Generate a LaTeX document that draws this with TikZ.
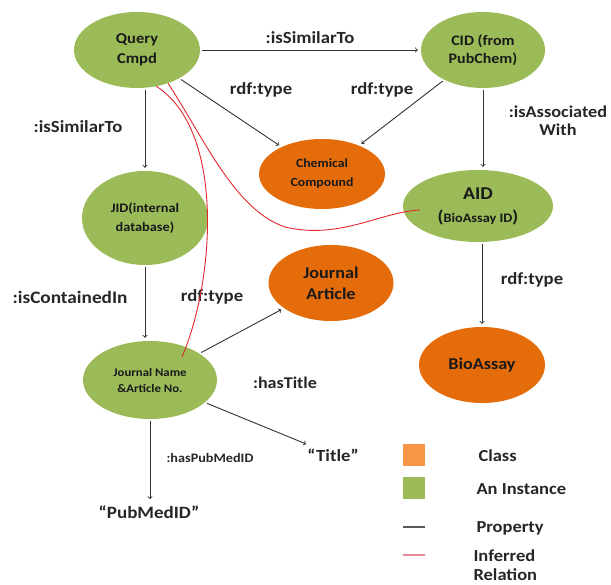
\documentclass[tikz,border=0pt]{standalone}
\usepackage{fontspec}
\setmainfont{Carlito}[FakeStretch=1.1]
\usetikzlibrary{shapes.geometric}
\definecolor{instgreen}{HTML}{9BBB59}
\definecolor{classorange}{HTML}{E46C0A}
\definecolor{keyorange}{HTML}{F79646}
\definecolor{propgray}{HTML}{333333}
\definecolor{keygray}{HTML}{595959}
\definecolor{inferred}{HTML}{E3262E}
\definecolor{keypink}{HTML}{E58A94}
\newcommand{\fsz}[2]{\fontsize{#1}{#2}\selectfont}

\begin{document}
\begin{tikzpicture}[x=1pt,y=-1pt,
    instance/.style={ellipse, fill=instgreen, inner sep=0pt, align=center, text=black!90},
    class/.style={ellipse, fill=classorange, inner sep=0pt, align=center, text=black!90},
    prop/.style={->, draw=propgray, line width=0.9pt, shorten <=2pt, shorten >=3pt},
    infer/.style={draw=inferred, line width=0.9pt},
    lbl/.style={font={\bfseries\fsz{17}{18}}, text=black!85, align=center}]
    \useasboundingbox (0,0) rectangle (611,585);
    % Instances
    \node[instance, minimum width=126pt, minimum height=76pt, font={\bfseries\fsz{15}{20}}] (query) at (137,50) {Query\\Cmpd};
    \node[instance, minimum width=124pt, minimum height=76pt, font={\bfseries\fsz{14.5}{18}}] (cid) at (483,50) {CID (from\\PubChem)};
    \node[instance, minimum width=126pt, minimum height=94pt, font={\bfseries\fsz{13}{19}}] (jid) at (145,218) {JID(internal\\database)};
    \node[instance, minimum width=150pt, minimum height=72pt, font={\bfseries\fsz{18}{23}}] (aid) at (478,206) {AID\\{\fsz{17}{23}(}{\fsz{13}{23}BioAssay ID}{\fsz{17}{23})}};
    \node[instance, minimum width=134pt, minimum height=78pt, font={\bfseries\fsz{11.6}{16}}] (jname) at (150,380) {Journal Name\\\&Article No.};
    % Classes
    \node[class, minimum width=126pt, minimum height=70pt, font={\bfseries\fsz{12.5}{19}}] (chem) at (322,174) {Chemical\\Compound};
    \node[class, minimum width=125pt, minimum height=76pt, font={\bfseries\fsz{16.5}{21}}] (jart) at (331,283) {Journal\\Article};
    \node[class, minimum width=126pt, minimum height=76pt, font={\bfseries\fsz{16.5}{20}}] (bioassay) at (482,365) {BioAssay};
    % Literals
    \node[lbl, font={\bfseries\fsz{17}{20}}] (title) at (333,455) {“Title”};
    \node[lbl, font={\bfseries\fsz{17.3}{20}}] (pubmed) at (149,512) {“PubMedID”};
    % Properties
    \draw[prop] (query) -- (cid);
    \node[lbl] (simtop) at (310,38) {:isSimilarTo};
    \draw[prop] (jid.north |- query.south) -- (jid.north);
    \node[lbl] (simleft) at (78,127) {:isSimilarTo};
    \draw[prop] (query) -- (chem);
    \node[lbl] (typeq) at (261,90) {rdf:type};
    \draw[prop] (cid) -- (chem);
    \node[lbl] (typec) at (382,90) {rdf:type};
    \draw[prop] (cid.south) -- (cid.south |- aid.north);
    \node[lbl, font={\bfseries\fsz{16.6}{18}}] (assoc) at (558,121) {:isAssociated\\With};
    \draw[prop] (bioassay.north |- aid.south) -- (bioassay.north);
    \node[lbl] (typea) at (532,280) {rdf:type};
    \draw[prop] (jid.south) -- (jid.south |- jname.north);
    \node[lbl, font={\bfseries\fsz{17.5}{18}}] (contained) at (70,297) {:isContainedIn};
    \draw[prop] (jname) -- (jart);
    \node[lbl] (typej) at (212,297) {rdf:type};
    \draw[prop] (jname) -- (title);
    \node[lbl, font={\bfseries\fsz{16.4}{18}}] (hastitle) at (285,383) {:hasTitle};
    \draw[prop] (jname.south) -- (jname.south |- pubmed.north);
    \node[lbl, font={\bfseries\fsz{12.9}{14}}] (haspub) at (210,458) {:hasPubMedID};
    % Inferred relations
    \coordinate (jtick) at (182,357);
    \coordinate (atick) at (420,210);
    \draw[infer] (query.-62) .. controls (225,130) and (215,280) .. (jtick);
    \draw[infer] (query.-47) .. controls (205,140) and (235,210) .. (285,227)
        .. controls (340,240) and (380,212) .. (atick);
    % Legend
    \node[fill=keyorange, minimum size=22pt, inner sep=0pt] (keyclass) at (414,455) {};
    \node[lbl, anchor=west, font={\bfseries\fsz{16.8}{18}}] (keyclasstxt) at (475,456) {Class};
    \node[fill=instgreen, minimum size=22pt, inner sep=0pt] (keyinst) at (414,488) {};
    \node[lbl, anchor=west, font={\bfseries\fsz{16.8}{18}}] (keyinsttxt) at (473,489) {An Instance};
    \draw[keygray, line width=1.6pt] (403,527) -- (425,527);
    \node[lbl, anchor=west, font={\bfseries\fsz{16.8}{18}}] (keyproptxt) at (473,528) {Property};
    \draw[keypink, line width=1.6pt] (403,555) -- (425,555);
    \node[lbl, anchor=west, align=left, font={\bfseries\fsz{16.8}{19}}] (keyinftxt) at (470,565) {Inferred\\Relation};
\end{tikzpicture}
\end{document}
